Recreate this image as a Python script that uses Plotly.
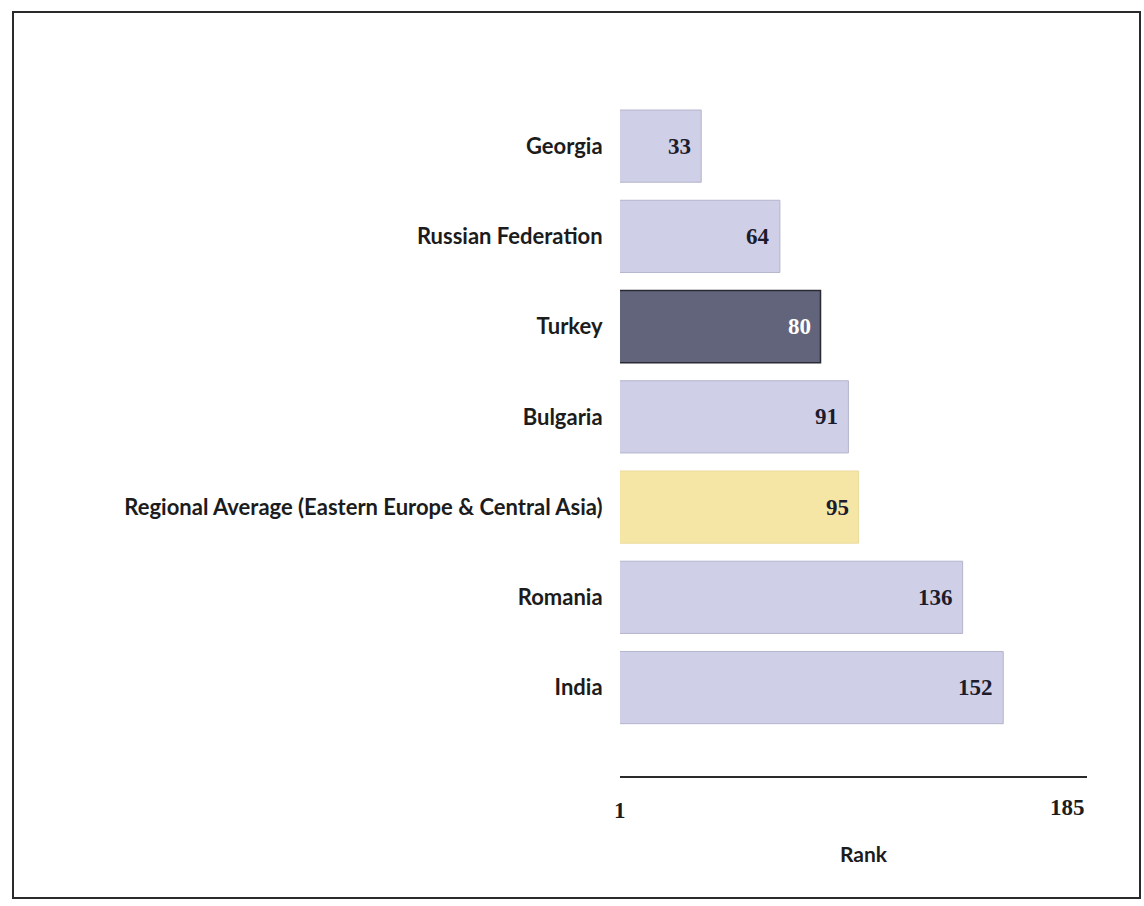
import plotly.graph_objects as go

# Ranking data (1 = best, 185 economies)
countries = [
    "Georgia",
    "Russian Federation",
    "Turkey",
    "Bulgaria",
    "Regional Average (Eastern Europe & Central Asia)",
    "Romania",
    "India",
]
ranks = [33, 64, 80, 91, 95, 136, 152]
bar_colors = ["#cfcfe8", "#cfcfe8", "#62647b", "#cfcfe8", "#f6e6a6", "#cfcfe8", "#cfcfe8"]
edge_colors = ["#b4b4cc", "#b4b4cc", "#2a2a33", "#b4b4cc", "#eadb9c", "#b4b4cc", "#b4b4cc"]
edge_widths = [1, 1, 1.5, 1, 1, 1, 1]
value_colors = ["#1c1c2c", "#1c1c2c", "#ffffff", "#1c1c2c", "#1c1c2c", "#1c1c2c", "#1c1c2c"]
rank_min, rank_max = 1, 185
axis_title = "Rank"

# Page geometry (pixels)
W, H = 1144, 906
L, R, T, B = 620, 1087, 101, 776


def px_x(p):
    return (p - L) / (R - L)


def px_y(p):
    return (B - p) / (B - T)


fig = go.Figure(
    go.Bar(
        x=ranks,
        y=countries,
        orientation="h",
        width=0.8,
        marker=dict(color=bar_colors, line=dict(color=edge_colors, width=edge_widths)),
        hoverinfo="x+y",
    )
)

# Value labels at the inner end of each bar
for c, v, col in zip(countries, ranks, value_colors):
    fig.add_annotation(
        x=v, y=c, xref="x", yref="y",
        text=f"<b>{v}</b>", showarrow=False,
        xanchor="right", xshift=-8,
        font=dict(family="Liberation Serif", size=23, color=col),
    )

# End labels of the rank scale
fig.add_annotation(
    x=rank_min, y=px_y(810), xref="x", yref="paper", text=f"<b>{rank_min}</b>",
    showarrow=False, xanchor="center", yanchor="middle",
    font=dict(family="Liberation Serif", size=23, color="#1c1c1c"),
)
fig.add_annotation(
    x=rank_max, y=px_y(807), xref="x", yref="paper", text=f"<b>{rank_max}</b>",
    showarrow=False, xanchor="right", yanchor="middle",
    font=dict(family="Liberation Serif", size=23, color="#1c1c1c"),
)
fig.add_annotation(
    x=px_x(864), y=px_y(853), xref="paper", yref="paper", text=f"<b>{axis_title}</b>",
    showarrow=False, xanchor="center", yanchor="middle",
    font=dict(family="Lato", size=21, color="#1c1c1c"),
)

# Outer frame
fig.add_shape(
    type="rect", xref="paper", yref="paper",
    x0=px_x(13), x1=px_x(1140), y0=px_y(898), y1=px_y(12),
    line=dict(color="#2a2a2a", width=2), fillcolor="rgba(0,0,0,0)", layer="below",
)

fig.update_layout(
    width=W, height=H,
    margin=dict(l=L, r=W - R, t=T, b=H - B, pad=0),
    paper_bgcolor="white",
    plot_bgcolor="white",
    showlegend=False,
    bargap=0.2,
    xaxis=dict(
        range=[rank_min, rank_max],
        showgrid=False, zeroline=False,
        showline=True, linecolor="#2a2a2a", linewidth=2,
        showticklabels=False, ticks="",
        fixedrange=True,
    ),
    yaxis=dict(
        categoryorder="array", categoryarray=countries,
        range=[6.98, -0.5],
        showgrid=False, zeroline=False, showline=False,
        ticks="outside", ticklen=0, ticklabelstandoff=12,
        tickfont=dict(family="Lato", size=22, color="#1c1c1c", weight="bold"),
        fixedrange=True,
    ),
)

fig.write_html("out.html")
